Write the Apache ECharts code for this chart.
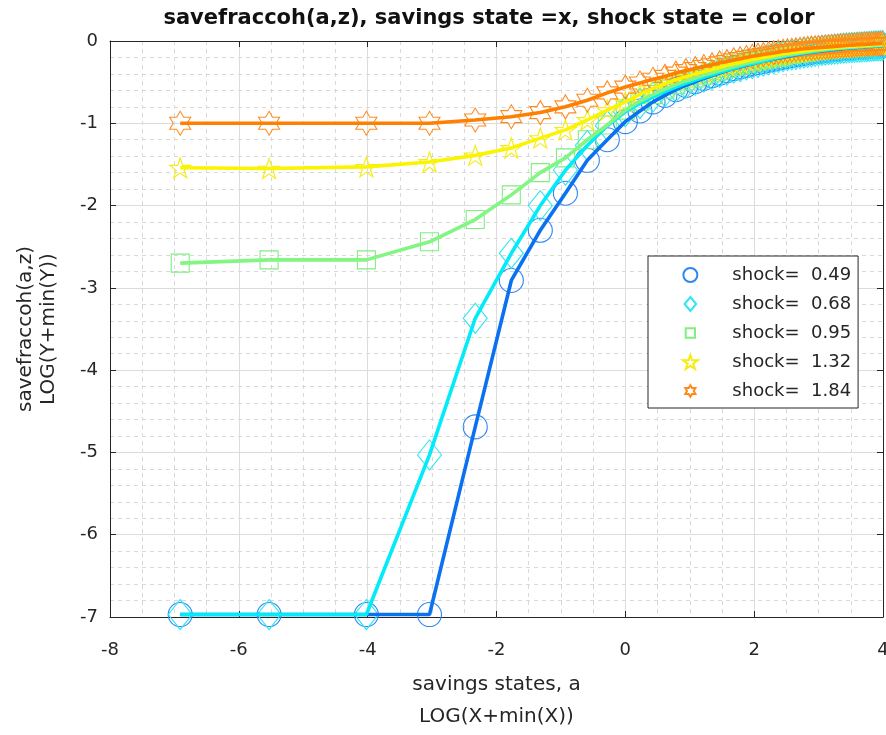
<!DOCTYPE html>
<html>
<head>
<meta charset="utf-8">
<script src="https://cdn.jsdelivr.net/npm/echarts@6/dist/echarts.min.js"></script>
<style>
  html, body { margin: 0; padding: 0; background: #ffffff; overflow: hidden; }
  #chart { width: 886px; height: 735px; }
</style>
</head>
<body>
<div id="chart"></div>
<script>
// log savings grid, LOG(X+min(X))
const logSavings = [
  -6.91, -5.53, -4.02, -3.04, -2.33, -1.77, -1.32, -0.93, -0.59, -0.28, 0.0,
  0.227, 0.430, 0.615, 0.784, 0.940, 1.085, 1.219, 1.346, 1.464, 1.577,
  1.683, 1.784, 1.880, 1.971, 2.059, 2.143, 2.224, 2.302, 2.376, 2.448,
  2.517, 2.584, 2.649, 2.712, 2.773, 2.832, 2.889, 2.945, 2.999, 3.052,
  3.104, 3.154, 3.203, 3.251, 3.297, 3.343, 3.388, 3.432, 3.474, 3.516,
  3.557, 3.597, 3.636, 3.675, 3.713, 3.750, 3.786, 3.822, 3.857, 3.892,
  3.926, 3.959, 3.992
];

// savefraccoh(a,z), LOG(Y+min(Y)), one array per shock state
const shock049 = [
  -6.97, -6.97, -6.97, -6.97, -4.69, -2.91, -2.30, -1.85, -1.45, -1.20, -0.98,
  -0.85, -0.74, -0.66, -0.59, -0.54, -0.495, -0.455, -0.42, -0.39, -0.36,
  -0.335, -0.315, -0.295, -0.278, -0.262, -0.247, -0.233, -0.22, -0.207, -0.196,
  -0.186, -0.176, -0.167, -0.158, -0.15, -0.143, -0.136, -0.13, -0.125, -0.12,
  -0.115, -0.111, -0.107, -0.103, -0.099, -0.096, -0.092, -0.089, -0.086, -0.084,
  -0.081, -0.078, -0.076, -0.074, -0.071, -0.069, -0.067, -0.065, -0.063, -0.061,
  -0.059, -0.057, -0.055
];
const shock068 = [
  -6.97, -6.97, -6.97, -5.03, -3.37, -2.58, -2.00, -1.57, -1.27, -1.03, -0.86,
  -0.76, -0.68, -0.615, -0.56, -0.515, -0.475, -0.44, -0.41, -0.38, -0.355,
  -0.33, -0.31, -0.29, -0.275, -0.26, -0.245, -0.23, -0.215, -0.20, -0.19,
  -0.178, -0.17, -0.162, -0.154, -0.146, -0.139, -0.132, -0.126, -0.12, -0.115,
  -0.11, -0.106, -0.102, -0.098, -0.095, -0.091, -0.088, -0.085, -0.082, -0.08,
  -0.077, -0.075, -0.073, -0.071, -0.069, -0.067, -0.065, -0.063, -0.061, -0.059,
  -0.058, -0.056, -0.055
];
const shock095 = [
  -2.70, -2.66, -2.66, -2.44, -2.17, -1.87, -1.60, -1.42, -1.20, -1.02, -0.84,
  -0.73, -0.65, -0.585, -0.53, -0.485, -0.45, -0.415, -0.385, -0.36, -0.335,
  -0.31, -0.29, -0.27, -0.255, -0.24, -0.225, -0.21, -0.20, -0.19, -0.178,
  -0.168, -0.16, -0.152, -0.144, -0.136, -0.129, -0.122, -0.116, -0.11, -0.106,
  -0.102, -0.098, -0.094, -0.091, -0.088, -0.085, -0.082, -0.079, -0.076, -0.074,
  -0.071, -0.069, -0.067, -0.065, -0.063, -0.061, -0.059, -0.057, -0.055, -0.054,
  -0.052, -0.051, -0.05
];
const shock132 = [
  -1.54, -1.55, -1.53, -1.47, -1.39, -1.30, -1.18, -1.08, -0.96, -0.84, -0.74,
  -0.65, -0.575, -0.52, -0.47, -0.435, -0.40, -0.37, -0.345, -0.32, -0.295,
  -0.275, -0.26, -0.24, -0.225, -0.21, -0.20, -0.19, -0.175, -0.165, -0.155,
  -0.148, -0.14, -0.133, -0.126, -0.12, -0.114, -0.108, -0.104, -0.10, -0.096,
  -0.092, -0.088, -0.085, -0.081, -0.078, -0.075, -0.072, -0.069, -0.067, -0.064,
  -0.062, -0.06, -0.058, -0.056, -0.054, -0.052, -0.05, -0.048, -0.047, -0.045,
  -0.044, -0.042, -0.04
];
const shock184 = [
  -1.00, -1.00, -1.00, -1.00, -0.96, -0.92, -0.87, -0.80, -0.72, -0.63, -0.56,
  -0.51, -0.465, -0.43, -0.39, -0.36, -0.335, -0.31, -0.29, -0.265, -0.25,
  -0.23, -0.215, -0.20, -0.185, -0.175, -0.165, -0.155, -0.145, -0.135, -0.125,
  -0.12, -0.113, -0.107, -0.10, -0.095, -0.09, -0.087, -0.083, -0.08, -0.077,
  -0.074, -0.071, -0.068, -0.065, -0.062, -0.06, -0.057, -0.054, -0.052, -0.05,
  -0.048, -0.046, -0.044, -0.043, -0.041, -0.04, -0.038, -0.037, -0.035, -0.034,
  -0.033, -0.031, -0.03
];

const shockNames = ['shock=  0.49', 'shock=  0.68', 'shock=  0.95', 'shock=  1.32', 'shock=  1.84'];
const shockValues = [shock049, shock068, shock095, shock132, shock184];

const xTicks = [-8, -6, -4, -2, 0, 2, 4];
const yTicks = [-7, -6, -5, -4, -3, -2, -1, 0];

// styling per shock state
const lineColors   = ['#0a72f0', '#00ecf8', '#82f582', '#fbf400', '#ff7f00'];
const markerColors = ['#2f86f5', '#2ee6f5', '#7ef07e', '#f5ec10', '#ff8a1c'];
const pentagram = 'path://M0,-100 L-22.5,-30.9 L-95.1,-30.9 L-36.3,11.8 L-58.8,80.9 L0,38.2 L58.8,80.9 L36.3,11.8 L95.1,-30.9 L22.5,-30.9 Z';
const hexagram = 'path://M0,-100 L-28.9,-50 L-86.6,-50 L-57.7,0 L-86.6,50 L-28.9,50 L0,100 L28.9,50 L86.6,50 L57.7,0 L86.6,-50 L28.9,-50 Z';
const markerShapes = ['circle', 'diamond', 'rect', pentagram, hexagram];
const markerSizes  = [24, [24, 30], 18, [21, 20], [21, 24]];
// legend glyphs, drawn at a fixed height with their proportions kept
const legendIcons = [
  'circle',
  'path://M0,-120 L100,0 L0,120 L-100,0 Z',
  'path://M-25,-25 M125,125 M0,0 L100,0 L100,100 L0,100 Z',
  pentagram,
  'path://M0,-120 M0,120 M0,-100 L-28.9,-50 L-86.6,-50 L-57.7,0 L-86.6,50 L-28.9,50 L0,100 L28.9,50 L86.6,50 L57.7,0 L86.6,-50 L28.9,-50 Z'
];

const FONT = 'DejaVu Sans';
const INK = '#262626';

const chart = echarts.init(document.getElementById('chart'), null, { renderer: 'canvas' });

const series = [];
shockNames.forEach((name, i) => {
  const pts = logSavings.map((x, k) => [x, shockValues[i][k]]);
  series.push({
    name: 'line ' + name,
    type: 'line',
    data: pts,
    showSymbol: false,
    symbol: 'none',
    clip: false,
    silent: true,
    lineStyle: { color: lineColors[i], width: 3.6 },
    itemStyle: { color: lineColors[i] },
    animation: false
  });
  series.push({
    name: name,
    type: 'scatter',
    data: pts,
    symbol: markerShapes[i],
    symbolSize: markerSizes[i],
    clip: false,
    silent: true,
    itemStyle: { color: 'rgba(255,255,255,0)', borderColor: markerColors[i], borderWidth: 1.1, opacity: 1 },
    animation: false
  });
});

const axisCommon = {
  axisLine: { show: true, onZero: false, lineStyle: { color: INK, width: 1 } },
  axisTick: { show: true, inside: true, length: 6, lineStyle: { color: INK } },
};

chart.setOption({
  backgroundColor: '#ffffff',
  animation: false,
  title: {
    text: 'savefraccoh(a,z), savings state =x, shock state = color',
    left: 484,
    textAlign: 'center',
    top: 3,
    textStyle: { fontFamily: FONT, fontSize: 21, fontWeight: 'bold', color: '#111111' }
  },
  grid: { left: 110, right: 3, top: 41, bottom: 118, containLabel: false, outerBoundsMode: 'none' },
  legend: {
    orient: 'vertical',
    left: 648,
    top: 256,
    padding: [9, 7, 7, 34],
    itemWidth: 74,
    itemHeight: 14,
    itemGap: 9,
    backgroundColor: '#ffffff',
    borderColor: INK,
    borderWidth: 1,
    borderRadius: 0,
    textStyle: { fontFamily: FONT, fontSize: 18, color: INK, lineHeight: 20 },
    data: shockNames.map((n, i) => ({ name: n, icon: legendIcons[i] }))
  },
  xAxis: [
    Object.assign({
      type: 'value', min: xTicks[0], max: xTicks[xTicks.length - 1], interval: 2,
      position: 'bottom',
      name: 'savings states, a\nLOG(X+min(X))',
      nameLocation: 'middle',
      nameGap: 52,
      nameTextStyle: { fontFamily: FONT, fontSize: 20, color: INK, lineHeight: 32 },
      axisLabel: { fontFamily: FONT, fontSize: 18, color: INK, margin: 24 },
      splitLine: { show: true, lineStyle: { color: '#dcdcdc', width: 1 } },
      minorTick: { show: false, splitNumber: 4 },
      minorSplitLine: { show: true, lineStyle: { color: '#d8d8d8', width: 1, type: [4, 4] } }
    }, axisCommon),
    Object.assign({
      type: 'value', min: xTicks[0], max: xTicks[xTicks.length - 1], interval: 2,
      position: 'top',
      axisLabel: { show: false },
      splitLine: { show: false }
    }, axisCommon)
  ],
  yAxis: [
    Object.assign({
      type: 'value', min: yTicks[0], max: yTicks[yTicks.length - 1], interval: 1,
      position: 'left',
      name: 'savefraccoh(a,z)\nLOG(Y+min(Y))',
      nameLocation: 'middle',
      nameGap: 50,
      nameRotate: 90,
      nameTextStyle: { fontFamily: FONT, fontSize: 20, color: INK, lineHeight: 23 },
      axisLabel: { fontFamily: FONT, fontSize: 18, color: INK, margin: 12 },
      splitLine: { show: true, lineStyle: { color: '#dcdcdc', width: 1 } },
      minorTick: { show: false, splitNumber: 5 },
      minorSplitLine: { show: true, lineStyle: { color: '#d8d8d8', width: 1, type: [4, 4] } }
    }, axisCommon),
    Object.assign({
      type: 'value', min: yTicks[0], max: yTicks[yTicks.length - 1], interval: 1,
      position: 'right',
      axisLabel: { show: false },
      splitLine: { show: false }
    }, axisCommon)
  ],
  series: series
});
</script>
</body>
</html>
